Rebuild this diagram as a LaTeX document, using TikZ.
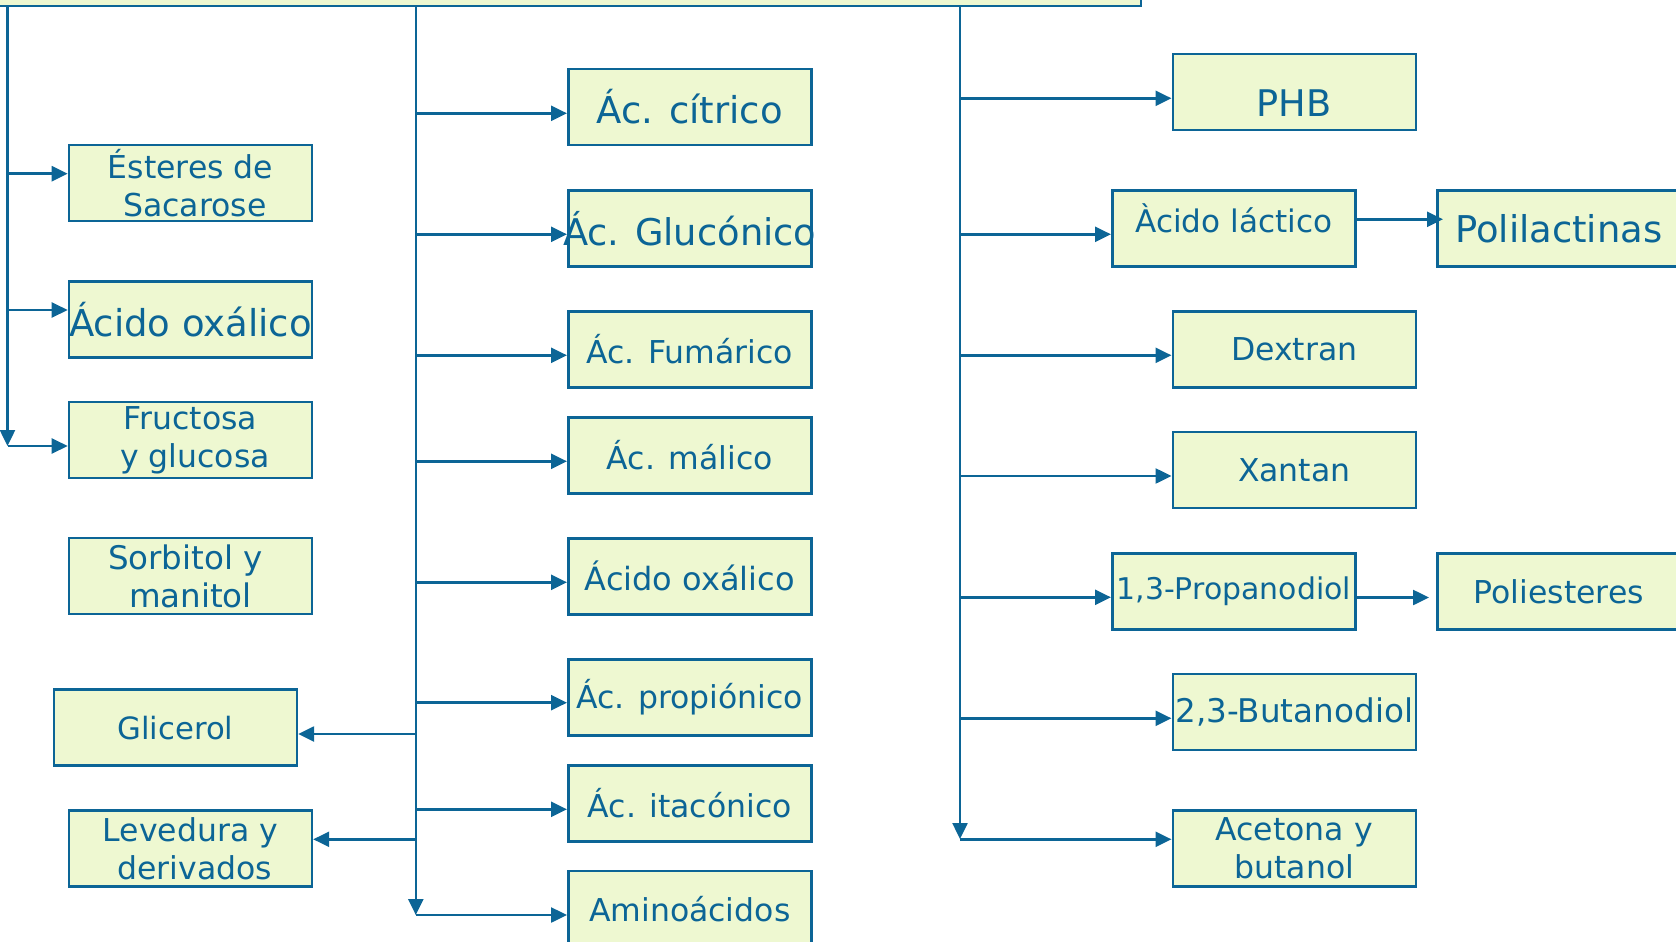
\documentclass[tikz,border=0pt]{standalone}
\usepackage{fontspec}
\setmainfont{DejaVu Sans}
\usetikzlibrary{arrows.meta}
\definecolor{ink}{RGB}{12,101,150}
\definecolor{leaf}{RGB}{238,248,209}
% text that may run past the box edges without widening the box
\newcommand{\spill}[1]{\makebox[0pt][c]{#1}}
\begin{document}
\begin{tikzpicture}[x=1pt,y=-1pt,
  box/.style={draw=ink, fill=leaf, line width=2.5pt, rectangle,
    minimum width=243pt, minimum height=76pt, inner sep=0pt,
    text=ink, align=center, anchor=north west,
    font=\fontsize{31.5}{38}\selectfont},
  fs/.style={font=\fontsize{#1}{38}\selectfont},
  link/.style={draw=ink, line width=2.5pt},
  arr/.style={link, -{Triangle[length=16pt,width=15pt]}},
]
\useasboundingbox (0,0) rectangle (1676,942);

% source box (mostly above the visible area)
\node[box, minimum width=1180pt, minimum height=60pt, anchor=south east] (src) at (1142,7.5) {};

% left column
\node[box] (est) at (67.7,143.7) {Ésteres de\\ \hspace*{9pt}Sacarose};
\node[box, fs=37] (oxl) at (67.7,280) {\spill{Ácido oxálico}};
\node[box] (fru) at (67.7,400.7) {Fructosa\\ \hspace*{9pt}y glucosa};
\node[box, fs=32.5] (sor) at (67.7,536.7) {Sorbitol y\hspace*{10pt}\\ manitol};
\node[box, fs=30.7] (gli) at (52.7,688.3) {Glicerol};
\node[box] (lev) at (67.7,809) {Levedura y\\ \hspace*{9pt}derivados};

% middle column
\node[box, fs=37] (cit) at (567,67.7) {Ác. cítrico};
\node[box, fs=36.8] (glu) at (567,189) {\spill{Ác. Glucónico}};
\node[box] (fum) at (567,310) {Ác. Fumárico};
\node[box] (mal) at (567,416) {Ác. málico};
\node[box, fs=32] (oxm) at (567,537) {Ácido oxálico};
\node[box] (pro) at (567,658) {\spill{Ác. propiónico}};
\node[box] (ita) at (567,764) {Ác. itacónico};
\node[box] (ami) at (567,869.5) {Aminoácidos};

% right column
\node[box, fs=36.7] (phb) at (1171.5,52.7) {\raisebox{-11.6pt}[\height][\depth]{PHB}};
\node[box, fs=31.1] (lac) at (1111,189) {\raisebox{10pt}[\height][\depth]{Àcido láctico}};
\node[box, fs=36.9] (pla) at (1436,189) {Polilactinas};
\node[box] (dex) at (1171.5,310) {Dextran};
\node[box] (xan) at (1171.5,430.8) {Xantan};
\node[box, fs=29.9] (pdo) at (1111,552) {\spill{1,3-Propanodiol}};
\node[box] (pes) at (1436,552.3) {Poliesteres};
\node[box, fs=32.6] (bdo) at (1171.5,672.7) {\spill{2,3-Butanodiol}};
\node[box] (ace) at (1171.5,809.3) {Acetona y\\ butanol};

% trunks
\coordinate (tl) at (7.5,0);
\coordinate (tm) at (415.8,0);
\coordinate (tr) at (960,0);

\draw[arr] (src.south -| tl) -- (tl |- 0,446);
\draw[arr] (src.south -| tm) -- (tm |- 0,915);
\draw[arr] (src.south -| tr) -- (tr |- 0,839);

% left branches
\draw[arr] (tl |- 0,173.7) -- (est.west |- 0,173.7);
\draw[arr] (tl |- 0,310) -- (oxl.west |- 0,310);
\draw[arr] (tl |- 0,446) -- (fru.west |- 0,446);

% middle branches
\draw[arr] (tm |- 0,113.3) -- (cit.west |- 0,113.3);
\draw[arr] (tm |- 0,234.3) -- (glu.west |- 0,234.3);
\draw[arr] (tm |- 0,355.3) -- (fum.west |- 0,355.3);
\draw[arr] (tm |- 0,461.3) -- (mal.west |- 0,461.3);
\draw[arr] (tm |- 0,582.3) -- (oxm.west |- 0,582.3);
\draw[arr] (tm |- 0,702.7) -- (pro.west |- 0,702.7);
\draw[arr] (tm |- 0,809.3) -- (ita.west |- 0,809.3);
\draw[arr] (tm |- 0,915) -- (ami.west |- 0,915);
\draw[arr] (tm |- 0,734) -- (gli.east |- 0,734);
\draw[arr] (tm |- 0,839.3) -- (lev.east |- 0,839.3);

% right branches
\draw[arr] (tr |- 0,98.3) -- (phb.west |- 0,98.3);
\draw[arr] (tr |- 0,234.3) -- (lac.west |- 0,234.3);
\draw[arr] (tr |- 0,355.3) -- (dex.west |- 0,355.3);
\draw[arr] (tr |- 0,476) -- (xan.west |- 0,476);
\draw[arr] (tr |- 0,597.3) -- (pdo.west |- 0,597.3);
\draw[arr] (tr |- 0,718.3) -- (bdo.west |- 0,718.3);
\draw[arr] (tr |- 0,839.3) -- (ace.west |- 0,839.3);

% follow-on products
\draw[arr] (lac.east |- 0,219.3) -- ([xshift=7pt]pla.west |- 0,219.3);
\draw[arr] (pdo.east |- 0,597.5) -- ([xshift=-7pt]pes.west |- 0,597.5);
\end{tikzpicture}
\end{document}
